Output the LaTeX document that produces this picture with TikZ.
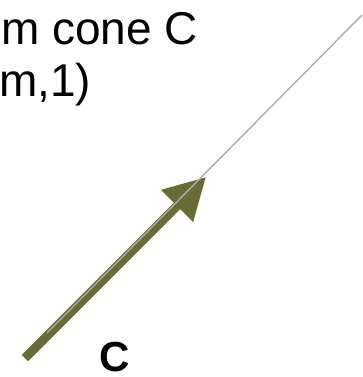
\documentclass[tikz,border=0pt]{standalone}
\usepackage{fontspec}
\setmainfont{Liberation Sans}
\usetikzlibrary{arrows.meta,positioning}
\definecolor{arrowcolor}{RGB}{104,108,52}
\definecolor{raycolor}{RGB}{172,172,172}

\begin{document}
\begin{tikzpicture}[x=1pt,y=-1pt]

\useasboundingbox (0,0) rectangle (362,377);

% Caption text
\node[anchor=base west, inner sep=0pt, font=\fontsize{46}{54}\selectfont] (captionA) at (1,45) {m cone C};
\node[anchor=base west, inner sep=0pt, font=\fontsize{46}{54}\selectfont] (captionB) at (-1,97) {m,1)};

% Vector C
\coordinate (base) at (25,358);
\coordinate (tip) at (206,177);
\draw[
arrowcolor,
line width=9pt,
-{Triangle[length=41pt,width=43pt]}
] (base) -- (tip);

% Ray through the cone
\coordinate (raystart) at (47,333);
\coordinate (rayend) at (362,15);
\draw[raycolor, line width=1.4pt] (raystart) -- (rayend);

% Label
\node[anchor=base west, inner sep=0pt, text depth=0pt, font=\fontsize{42}{50}\selectfont\bfseries] (labelC) at (99,371) {C};

\end{tikzpicture}
\end{document}
